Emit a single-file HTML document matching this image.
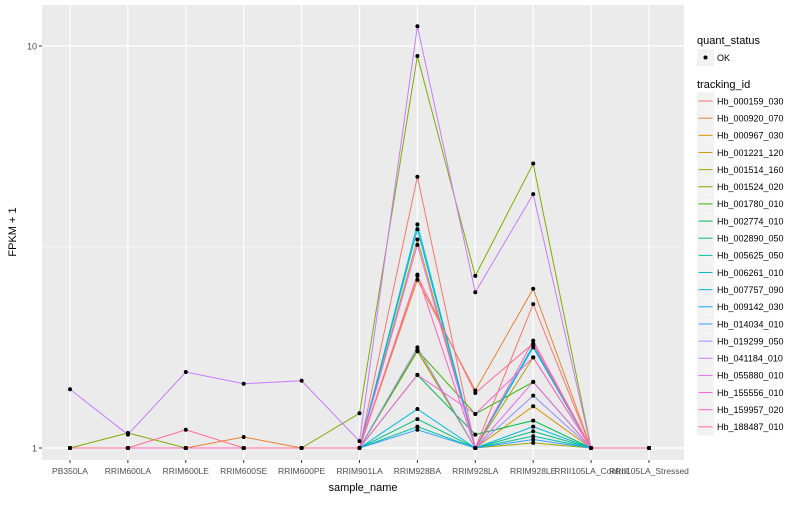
<!DOCTYPE html>
<html><head><meta charset="utf-8"><style>
body{margin:0;background:#fff;font-family:"Liberation Sans",sans-serif}
svg text{font-family:"Liberation Sans",sans-serif}
</style></head><body>
<svg id="chart" width="800" height="500" xmlns="http://www.w3.org/2000/svg">
<rect x="0" y="0" width="800" height="500" fill="#fff"/>
<rect x="42" y="5" width="642" height="455" fill="#EBEBEB"/>
<g id="grid"></g><g id="series"></g><g id="axes"></g><g id="legend"></g>
</svg>
<script>
const categories=["PB350LA","RRIM600LA","RRIM600LE","RRIM600SE","RRIM600PE","RRIM901LA","RRIM928BA","RRIM928LA","RRIM928LE","RRII105LA_Control","RRII105LA_Stressed"];
const seriesIds=["Hb_000159_030","Hb_000920_070","Hb_000967_030","Hb_001221_120","Hb_001514_160","Hb_001524_020","Hb_001780_010","Hb_002774_010","Hb_002890_050","Hb_005625_050","Hb_006261_010","Hb_007757_090","Hb_009142_030","Hb_014034_010","Hb_019299_050","Hb_041184_010","Hb_055880_010","Hb_155556_010","Hb_159957_020","Hb_188487_010"];
const seriesColors=["#F8766D","#EA8331","#D89000","#C09B00","#A3A500","#7CAE00","#39B600","#00BB4E","#00BF7D","#00C1A3","#00BFC4","#00BAE0","#00B0F6","#35A2FF","#9590FF","#C77CFF","#E76BF3","#FA62DB","#FF62BC","#FF6C91"];
const v000159=[1,1,1,1,1,1,4.73,1,2.28,1,1];
const v000920=[1,1,1,1.065,1,1,2.62,1.39,2.49,1,1];
const v000967=[1,1,1,1,1,1,1.75,1,1.27,1,1];
const v001221=[1,1,1,1,1,1,3.3,1,1.68,1,1];
const v001514=[1,1,1,1,1,1,1.74,1,1.03,1,1];
const v001524=[1,1.09,1,1,1,1.22,9.44,2.68,5.1,1,1];
const v001780=[1,1,1,1,1,1,1.75,1.215,1.46,1,1];
const v002774=[1,1,1,1,1,1,1.52,1.08,1.17,1,1];
const v002890=[1,1,1,1,1,1,1.18,1,1.10,1,1];
const v005625=[1,1,1,1,1,1,1.13,1,1.07,1,1];
const v006261=[1,1,1,1,1,1,3.6,1,1.8,1,1];
const v007757=[1,1,1,1,1,1,1.25,1,1.13,1,1];
const v009142=[1,1,1,1,1,1,3.5,1,1.78,1,1];
const v014034=[1,1,1,1,1,1,1.11,1,1.05,1,1];
const v019299=[1,1,1,1,1,1,1.78,1,1.35,1,1];
const v041184=[1.40,1.08,1.545,1.445,1.47,1.04,11.2,2.44,4.28,1,1];
const v055880=[1,1,1,1,1,1,3.2,1,1.46,1,1];
const v155556=[1,1,1,1,1,1,1.52,1.215,1.68,1,1];
const v159957=[1,1,1,1,1,1,2.7,1,1.85,1,1];
const v188487=[1,1,1.11,1,1,1,2.68,1.37,1.82,1,1];
const seriesValues=[v000159,v000920,v000967,v001221,v001514,v001524,v001780,v002774,v002890,v005625,v006261,v007757,v009142,v014034,v019299,v041184,v055880,v155556,v159957,v188487];
const yTicks=[1,10];
const yTickLabels=["1","10"];

const NS="http://www.w3.org/2000/svg";
function xS(i){return 70+i*57.9;}
function yS(v){return 448-402*Math.log10(v);}
function mk(tag,attrs,parent){const e=document.createElementNS(NS,tag);for(const k in attrs)e.setAttribute(k,attrs[k]);parent.appendChild(e);return e;}
const grid=document.getElementById('grid'),ser=document.getElementById('series'),axes=document.getElementById('axes'),leg=document.getElementById('legend');
// minor grid
[Math.sqrt(10)].forEach(v=>{const l=mk('line',{x1:42,x2:684,y1:yS(v),y2:yS(v),stroke:'#fff','stroke-width':0.6},grid);

});
yTicks.forEach((v,i)=>{const l=mk('line',{x1:42,x2:684,y1:yS(v),y2:yS(v),stroke:'#fff','stroke-width':1.2},grid);


const t=mk('text',{x:37,y:yS(v)+3.5,'text-anchor':'end','font-size':9,fill:'#4D4D4D'},axes);t.textContent=yTickLabels[i];


const tk=mk('line',{x1:39,x2:42,y1:yS(v),y2:yS(v),stroke:'#333','stroke-width':1},axes);

});
categories.forEach((c,i)=>{const l=mk('line',{x1:xS(i),x2:xS(i),y1:5,y2:460,stroke:'#fff','stroke-width':1.2},grid);


const tk=mk('line',{x1:xS(i),x2:xS(i),y1:460,y2:463,stroke:'#333','stroke-width':1},axes);


const t=mk('text',{x:xS(i),y:474,'text-anchor':'middle','font-size':8.5,fill:'#4D4D4D'},axes);t.textContent=c;

});
const xt=mk('text',{x:363,y:491,'text-anchor':'middle','font-size':11,fill:'#000'},axes);xt.textContent="sample_name";


const yt=mk('text',{x:0,y:0,transform:'translate(16,232) rotate(-90)','text-anchor':'middle','font-size':11,fill:'#000'},axes);yt.textContent="FPKM + 1";


seriesValues.forEach((vals,s)=>{const pts=vals.map((v,i)=>xS(i)+','+yS(v)).join(' ');
const p=mk('polyline',{points:pts,fill:'none',stroke:seriesColors[s],'stroke-width':1},ser);

});
seriesValues.forEach((vals,s)=>{vals.forEach((v,i)=>{const c=mk('circle',{cx:xS(i),cy:yS(v),r:2,fill:'#000'},ser);

});});
// legend
let t=mk('text',{x:697,y:44,'font-size':11,fill:'#000'},leg);t.textContent="quant_status";


let r=mk('rect',{x:697,y:49,width:17,height:17,fill:'#F2F2F2'},leg);


let d=mk('circle',{cx:705.5,cy:57.5,r:2,fill:'#000'},leg);


t=mk('text',{x:717,y:61,'font-size':9,fill:'#000'},leg);t.textContent="OK";


t=mk('text',{x:697,y:88,'font-size':11,fill:'#000'},leg);t.textContent="tracking_id";


seriesIds.forEach((id,s)=>{const y=101+s*17.15;
const g=mk('g',{},leg);


mk('rect',{x:697,y:y-8.5,width:17,height:17,fill:'#F2F2F2'},g);
mk('line',{x1:698.5,x2:712.5,y1:y,y2:y,stroke:seriesColors[s],'stroke-width':1},g);
const tx=mk('text',{x:717,y:y+3.3,'font-size':9,fill:'#000'},g);tx.textContent=id;});
</script>
</body></html>
